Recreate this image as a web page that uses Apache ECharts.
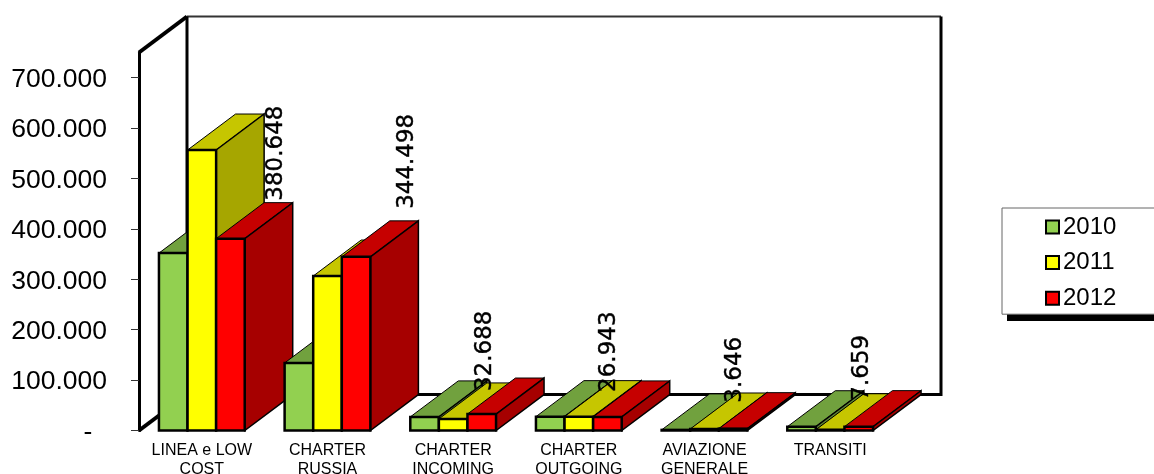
<!DOCTYPE html>
<html>
<head>
<meta charset="utf-8">
<style>html,body{margin:0;padding:0;background:#fff}#chart{width:1154px;height:474px}</style>
<script src="https://cdn.jsdelivr.net/npm/echarts@6/dist/echarts.min.js"></script>
</head>
<body>
<div id="chart"></div>
<script>
// Passengers per traffic segment, 2010-2012
const categories = ['LINEA e LOW\nCOST', 'CHARTER\nRUSSIA', 'CHARTER\nINCOMING', 'CHARTER\nOUTGOING', 'AVIAZIONE\nGENERALE', 'TRANSITI'];
const years = ['2010', '2011', '2012'];
const values2010 = [352000, 134000, 27000, 27500, 1200, 7500];
const values2011 = [556500, 306500, 23000, 27500, 3000, 1500];
const values2012 = [380648, 344498, 32688, 26943, 3646, 7659];
const tickValues = [0, 100000, 200000, 300000, 400000, 500000, 600000, 700000];

// Pixel shift of each 2012 value label from the top of its bar
const labelShiftX = [46, 51, 3, 2, 2, 3];
const labelShiftY = [-38, -48, -23, -25, -26, -26];

const depthX = 48, depthY = -36;
const barRatio = 0.2275;
const palettes = [
  { front: '#92D050', top: '#71A13E', side: '#5F8734' },
  { front: '#FFFF00', top: '#C6C600', side: '#A6A600' },
  { front: '#FF0000', top: '#C60000', side: '#A60000' }
];

// Dots as thousands separators, a dash for zero
function fmt(v) {
  if (v === 0) return '-\u00A0\u00A0';
  return String(v).replace(/\B(?=(\d{3})+$)/g, '.');
}

function face(points, fill, lineWidth, z2) {
  return {
    type: 'polygon', z2: z2,
    shape: { points: points },
    style: { fill: fill, stroke: '#000', lineWidth: lineWidth, lineJoin: 'miter' }
  };
}

// A prism: top and side first, front last, layered left to right across groups
function barRenderer(seriesIndex) {
  return function (params, api) {
    const cat = api.value(0), val = api.value(1);
    const band = api.size([1, 0])[0];
    const w = band * barRatio;
    const c = api.coord([cat, val]);
    const base = api.coord([cat, 0])[1];
    const x0 = c[0] + (seriesIndex - 1.5) * w;
    const x1 = x0 + w;
    const y = c[1];
    const pal = palettes[seriesIndex];
    const z = 10 + cat * 10 + seriesIndex * 3;
    const children = [
      face([[x0, y], [x0 + depthX, y + depthY], [x1 + depthX, y + depthY], [x1, y]], pal.top, 1, z),
      face([[x1, y], [x1 + depthX, y + depthY], [x1 + depthX, base + depthY], [x1, base]], pal.side, 1.5, z + 1),
      face([[x0, y], [x1, y], [x1, base], [x0, base]], pal.front, 2.5, z + 2)
    ];
    if (seriesIndex === 2) {
      children.push({
        type: 'text', z2: 500,
        x: c[0] + w + labelShiftX[cat],
        y: y + labelShiftY[cat],
        rotation: Math.PI / 2,
        style: {
          text: fmt(val),
          font: '23px "DejaVu Sans"',
          fill: '#000',
          stroke: '#000',
          lineWidth: 0.4,
          textAlign: 'left',
          textVerticalAlign: 'middle'
        }
      });
    }
    return { type: 'group', children: children };
  };
}

// Back wall and side wall outline of the 3D box
function frameRenderer(params, api) {
  const band = api.size([1, 0])[0];
  const left = api.coord([0, 0])[0] - band / 2;
  const right = api.coord([categories.length - 1, 0])[0] + band / 2;
  const bottom = api.coord([0, 0])[1];
  const top = api.coord([0, 750000])[1];
  const bx = left + depthX, br = right + depthX;
  const by = bottom + depthY, bt = top + depthY;
  const line = (pts, width, color) => ({
    type: 'polyline', z2: 1,
    shape: { points: pts },
    style: { fill: null, stroke: color, lineWidth: width, lineJoin: 'miter' }
  });
  return {
    type: 'group',
    children: [
      line([[bx, bt], [br, bt]], 2, '#333'),
      line([[br, bt], [br, by], [bx, by]], 3, '#000'),
      line([[bx, bt], [bx, by]], 3, '#000'),
      line([[left, top], [bx, bt]], 4, '#000'),
      line([[left, bottom], [bx, by]], 4, '#000')
    ]
  };
}

function barSeries(name, index, values) {
  return {
    type: 'custom', name: name,
    coordinateSystem: 'cartesian2d',
    renderItem: barRenderer(index),
    itemStyle: { color: palettes[index].front },
    encode: { x: 0, y: 1 },
    data: values.map((v, i) => [i, v])
  };
}

const chart = echarts.init(document.getElementById('chart'), null, { renderer: 'canvas' });
chart.setOption({
  animation: false,
  backgroundColor: '#fff',
  textStyle: { fontFamily: '"Liberation Sans", Arial, sans-serif', color: '#000' },
  grid: { left: 139, top: 52.5, width: 754, height: 378, outerBoundsMode: 'none' },
  // Drop shadow under the legend box, which runs off the right edge
  graphic: [{
    type: 'rect', z: 0,
    shape: { x: 1007, y: 310, width: 150, height: 11 },
    style: { fill: '#000' }
  }],
  legend: {
    data: years,
    orient: 'vertical',
    left: 1002, top: 208,
    padding: [7, 45, 4, 43],
    itemWidth: 13, itemHeight: 13, itemGap: 11.6,
    icon: 'rect',
    selectedMode: false,
    backgroundColor: '#fff',
    borderColor: '#666', borderWidth: 1,
    itemStyle: { borderColor: '#000', borderWidth: 2 },
    textStyle: { fontSize: 24, color: '#000', padding: [0, 0, 0, -1], fontFamily: '"Liberation Sans", Arial, sans-serif' }
  },
  xAxis: {
    type: 'category',
    data: categories,
    axisLine: { show: false },
    axisTick: { show: false },
    axisLabel: { interval: 0, fontSize: 16, lineHeight: 19, margin: 11, color: '#000', hideOverlap: false }
  },
  yAxis: {
    type: 'value',
    min: 0, max: 750000, interval: 100000,
    splitLine: { show: false },
    axisLine: { show: true, lineStyle: { color: '#000', width: 3 } },
    axisTick: { show: true, length: 8, customValues: tickValues, lineStyle: { color: '#333', width: 1 } },
    axisLabel: {
      customValues: tickValues,
      formatter: v => '{v|' + fmt(v) + '}',
      margin: 32,
      rich: { v: { fontSize: 26.5, color: '#000', padding: [4, 0, 0, 0] } }
    }
  },
  series: [
    {
      type: 'custom', coordinateSystem: 'cartesian2d', silent: true,
      renderItem: frameRenderer,
      encode: { x: 0, y: 1 },
      data: [[0, 0]]
    },
    barSeries(years[0], 0, values2010),
    barSeries(years[1], 1, values2011),
    barSeries(years[2], 2, values2012)
  ]
});
</script>
</body>
</html>
